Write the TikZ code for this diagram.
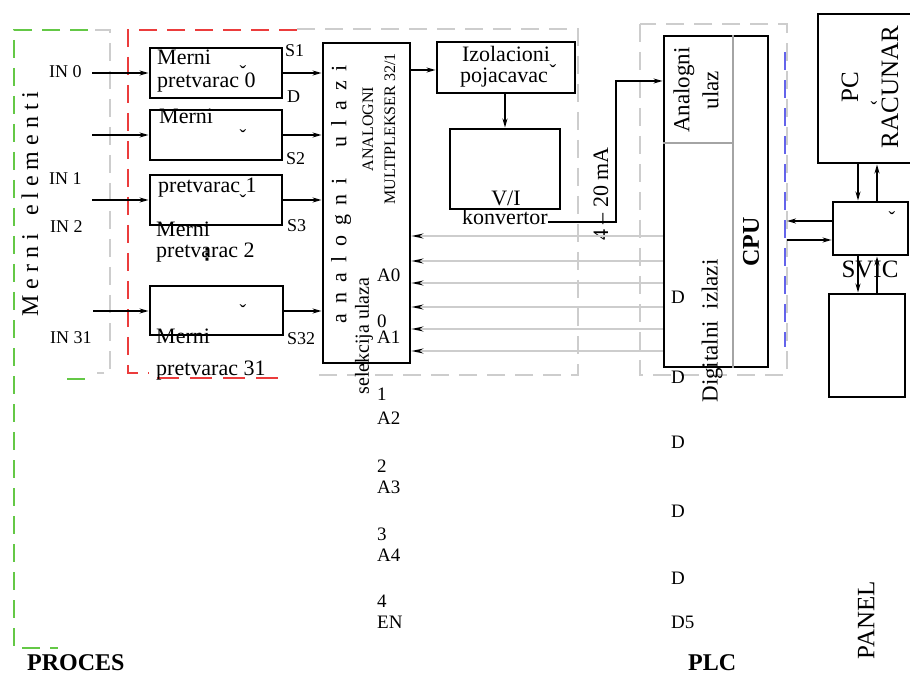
\documentclass[tikz,border=0pt]{standalone}
\usepackage{fontspec}
\setmainfont{Liberation Serif}
\newfontfamily\symfont{DejaVu Sans}
\usetikzlibrary{arrows.meta,positioning,calc}

\definecolor{frgreen}{RGB}{100,200,70}
\definecolor{frred}{RGB}{235,60,60}
\definecolor{frblue}{RGB}{100,100,235}
\definecolor{frgray}{RGB}{205,205,205}

\begin{document}
\begin{tikzpicture}[
  x=1pt, y=-1pt,
  font=\fontsize{22}{23}\selectfont,
  box/.style={draw, line width=2.9pt},
  conv/.style={box, minimum width=132pt, minimum height=50pt},
  txt/.style={inner sep=0pt, anchor=base west},
  inlbl/.style={txt, font=\fontsize{18}{19}\selectfont},
  pin/.style={txt, font=\fontsize{19}{20}\selectfont},
  vert/.style={inner sep=0pt, rotate=90, align=center},
  caron/.style={inner sep=0pt, font=\fontsize{20}{20}\selectfont},
  arr/.style={-{Stealth[length=9pt,width=5pt]}, line width=1.6pt},
  bus/.style={draw=frgray, line width=1.3pt, -{Stealth[length=12pt,width=5pt,color=black]}},
  frame/.style={dash pattern=on 18pt off 10pt, line width=1.2pt}
]
\useasboundingbox (0,0) rectangle (910,676);

% okviri
\draw[frame, frgreen] (88,30) -- (14,30) -- (14,648) -- (58,648);
\draw[frame, frgreen] (67,379) -- (88,379);
\draw[frame, frgray] (95,30) -- (110,30) -- (110,373) -- (97,373);
\draw[frame, frgray] (297,29) -- (578,29) -- (578,375) -- (312,375);
\draw[frame, frgray] (640,24) rectangle (787,375);
\draw[frame, frblue] (785,52) -- (785,347);
\draw[frame, frred] (297,30) -- (128,30) -- (128,373) -- (149,373);
\draw[frame, frred, dash pattern=on 22pt off 11pt] (157,378) -- (280,378);

\node[vert, font=\fontsize{24}{24}\selectfont] (me) at (30,204) {M e r n i ~ e l e m e n t i};

% merni pretvaraci
\node[conv] (mp0) at (216,73) {};
\node[conv] (mp1) at (216,135) {};
\node[conv] (mp2) at (216,200) {};
\node[conv, minimum width=133pt, minimum height=49pt] (mp31) at (216.5,310.5) {};

\node[txt] (m0a) at (157,65) {Merni};
\node[txt] (m0b) at (157,88) {pretvarac 0};
\node[txt] (m1a) at (159,124) {Merni};
\node[txt] (m1b) at (158,193) {pretvarac 1};
\node[txt] (m2a) at (156,237) {Merni};
\node[txt] (m2b) at (156,258) {pretvarac 2};
\node[txt] (m31a) at (156,343) {Merni};
\node[txt] (m31b) at (156,375) {pretvarac 31};
\node[inner sep=0pt, font=\symfont\fontsize{17}{17}\selectfont\bfseries] (dots) at (207,255) {⋮};
\foreach \n/\y in {c0/73, c1/137, c2/202, c31/312}
  \node[caron] (\n) at (243,\y) {ˇ};

\node[inlbl] (in0l) at (49,78) {IN 0};
\node[inlbl] (in1l) at (49,185) {IN 1};
\node[inlbl] (in2l) at (50,233) {IN 2};
\node[inlbl] (in31l) at (50,343) {IN 31};
\coordinate (in0) at (92,73);
\coordinate (in1) at (92,135);
\coordinate (in2) at (92,200);
\coordinate (in31) at (93,311);
\draw[arr] (in0) -- (mp0.west |- in0);
\draw[arr] (in1) -- (mp1.west |- in1);
\draw[arr] (in2) -- (mp2.west |- in2);
\draw[arr] (in31) -- (mp31.west |- in31);

\node[inlbl] (s1) at (285,57) {S1};
\node[inlbl] (sd) at (287,103) {D};
\node[inlbl] (s2) at (286,165) {S2};
\node[inlbl] (s3) at (287,232) {S3};
\node[inlbl] (s32) at (287,344) {S32};

% multiplekser
\node[box, minimum width=87pt, minimum height=320pt] (mux) at (366.5,203) {};
\draw[arr] (mp0.east |- in0) -- (mux.west |- in0);
\draw[arr] (mp1.east |- in1) -- (mux.west |- in1);
\draw[arr] (mp2.east |- in2) -- (mux.west |- in2);
\draw[arr] (mp31.east |- in31) -- (mux.west |- in31);

\node[vert] (ai) at (341,194) {a\hspace{.45em}n\hspace{.45em}a\hspace{.45em}l\hspace{.45em}o\hspace{.45em}g\hspace{.45em}n\hspace{.45em}i\hspace{1.4em}u\hspace{.45em}l\hspace{.45em}a\hspace{.45em}z\hspace{.45em}i};
\node[vert, font=\fontsize{16}{22}\selectfont] (amux) at (379,129) {ANALOGNI\\MULTIPLEKSER 32/1};
\node[vert, font=\fontsize{20}{20}\selectfont] (sel) at (364,336) {selekcija ulaza};

\foreach \t/\y [count=\i] in {A0/282, 0/327, A1/343, 1/400, A2/424, 2/472, A3/493, 3/540, A4/561, 4/607, EN/628}
  \node[pin] (a\i) at (377,\y) {\t};

% izolacija i konverzija
\node[box, minimum width=138pt, minimum height=51pt] (izo) at (506,67.5) {};
\node[txt, anchor=base] (izoa) at (506,62) {Izolacioni};
\node[txt, anchor=base] (izob) at (504,83) {pojacavac};
\node[caron] (cizo) at (553,72) {ˇ};
\node[box, minimum width=110pt, minimum height=80pt] (vi) at (505,169) {};
\node[txt, anchor=base] (via) at (506,206) {V/I};
\node[txt, anchor=base] (vib) at (505,225) {konvertor};

\draw[arr] (mux.east |- 0,70) -- (izo.west |- 0,70);
\draw[arr] (izo.south -| vi.north) -- (vi.north);

% PLC
\node[box, minimum width=104pt, minimum height=331pt] (plc) at (716,201.5) {};
\draw[frgray!80!black, line width=1.2pt] (733,0 |- plc.north) -- (733,0 |- plc.south);
\draw[frgray!80!black, line width=1.2pt] (plc.west |- 0,143) -- (733,143);

\node[vert, font=\fontsize{23}{29}\selectfont] (anu) at (696,90) {Analogni\\ulaz};
\node[vert, font=\fontsize{24}{24}\selectfont\bfseries] (cpu) at (751,242) {CPU};
\node[vert, font=\fontsize{23}{23}\selectfont] (diz) at (712,331) {Digitalni~~izlazi};
\foreach \t/\y [count=\i] in {D/303, D/383, D/448, D/517, D/584, D5/628}
  \node[pin] (d\i) at (671,\y) {\t};

\coordinate (vo) at (548,222);
\coordinate (ain) at (616,81);
\draw[arr] (vo) -| (ain) -- (ain -| plc.west);
\node[vert] (ma) at (601,194) {4 -- 20 mA};

\foreach \y in {236,261,283,307,329,351}
  \draw[bus] (plc.west |- 0,\y) -- (mux.east |- 0,\y);

% racunar, svic, panel
\node[box, minimum width=97pt, minimum height=149pt] (pc) at (866.5,88.5) {};
\node[vert, font=\fontsize{25}{40}\selectfont] (pct) at (870,87) {PC\\RACUNAR};
\node[caron] (cpc) at (874,109) {ˇ};
\node[box, minimum width=75pt, minimum height=53pt] (svic) at (870.5,228.5) {};
\node[caron] (csv) at (892,219) {ˇ};
\node[txt, anchor=base, font=\fontsize{25}{25}\selectfont] (svt) at (870,278) {SVIC};
\node[box, minimum width=76pt, minimum height=103pt] (panel) at (867,345.5) {};
\node[vert, font=\fontsize{25}{25}\selectfont] (pnt) at (866,620) {PANEL};

\draw[arr] (pc.south -| 858,0) -- (svic.north -| 858,0);
\draw[arr] (svic.north -| 877,0) -- (pc.south -| 877,0);
\draw[arr] (svic.south -| 858,0) -- (panel.north -| 858,0);
\draw[arr] (panel.north -| 877,0) -- (svic.south -| 877,0);
\coordinate (pf) at (787,230);
\draw[arr] (svic.west |- 0,221) -- (pf |- 0,221);
\draw[arr] (pf |- 0,240) -- (svic.west |- 0,240);

\node[txt, font=\fontsize{24}{24}\selectfont\bfseries] (proc) at (27,670) {PROCES};
\node[txt, font=\fontsize{24}{24}\selectfont\bfseries] (plct) at (688,670) {PLC};
\end{tikzpicture}
\end{document}
